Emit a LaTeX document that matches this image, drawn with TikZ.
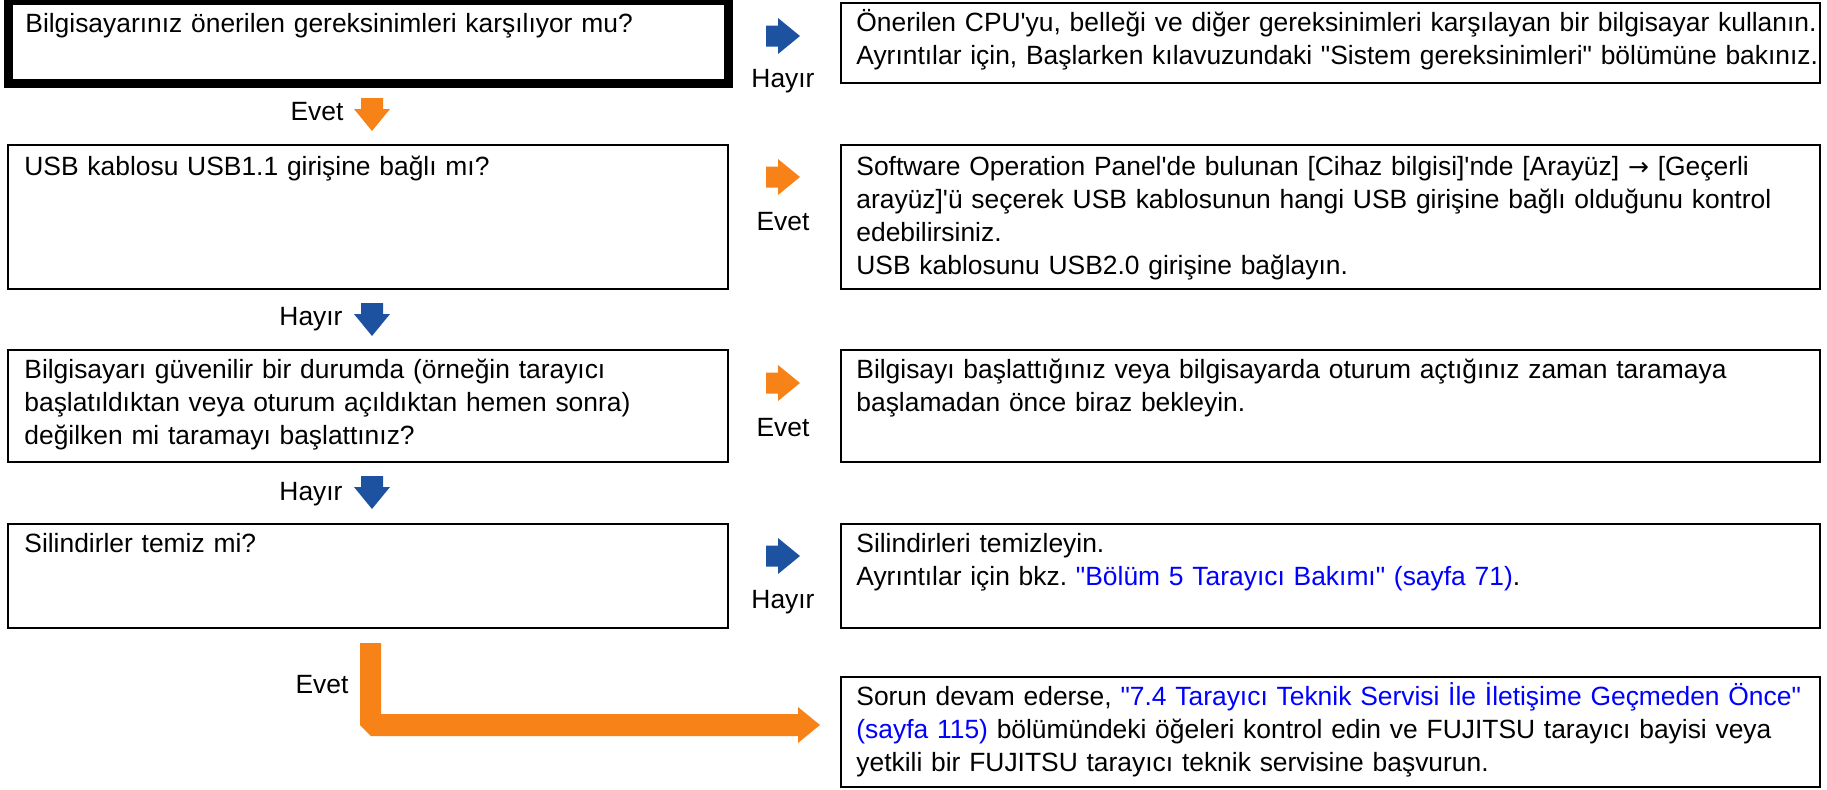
\documentclass[tikz,border=0pt]{standalone}
\usepackage{fontspec}
\newfontfamily\lsans{Liberation Sans}
\newfontfamily\dvs{DejaVu Sans}
\definecolor{fjorange}{RGB}{247,130,24}
\definecolor{fjblue}{RGB}{28,82,160}
\definecolor{linkblue}{RGB}{0,0,255}
\frenchspacing
\begin{document}
\begin{tikzpicture}[x=0.5pt,y=-0.5pt,
  box/.style={draw=black, line width=1.25pt, anchor=north west, inner sep=0pt, outer sep=0pt},
  thickbox/.style={box, line width=4.5pt},
  lbox/.style={box, minimum width=360pt},
  rbox/.style={box, minimum width=489.5pt},
  txt/.style={anchor=base west, inner sep=0pt, align=left, font=\lsans\fontsize{13.2}{16.5}\selectfont\frenchspacing},
  ltxt/.style={txt, text width=352pt},
  rtxt/.style={txt, text width=500pt},
  lbl/.style={anchor=base, inner sep=0pt, font=\lsans\fontsize{13.2}{16.5}\selectfont},
  rarr/.pic={\fill[#1] (0,-10.5) -- (12,-10.5) -- (12,-18) -- (34,0) -- (12,18) -- (12,10.5) -- (0,10.5) -- cycle;},
  darr/.pic={\fill[#1] (-11,0) -- (11,0) -- (11,11) -- (18,11) -- (0,33) -- (-18,11) -- (-11,11) -- cycle;},
]
\useasboundingbox (0,0) rectangle (1827,789);

% row 1
\node[thickbox, minimum width=360pt, minimum height=41.25pt] (q1) at (8,0.5) {};
\node[rbox, minimum height=40pt] (a1) at (841,3) {};
\node[ltxt] (q1t) at (25,32) {Bilgisayarınız önerilen gereksinimleri karşılıyor mu?};
\node[rtxt] (a1t) at (856,31) {Önerilen CPU'yu, belleği ve diğer gereksinimleri karşılayan bir bilgisayar kullanın.\\Ayrıntılar için, Başlarken kılavuzundaki "Sistem gereksinimleri" bölümüne bakınız.};
\pic at (766,36) {rarr=fjblue};
\node[lbl] (h1) at (783,87) {Hayır};
\pic at (372,98) {darr=fjorange};
\node[lbl] (e1) at (317,120) {Evet};

% row 2
\node[lbox, minimum height=72pt] (q2) at (8,145) {};
\node[rbox, minimum height=72pt] (a2) at (841,145) {};
\node[ltxt] (q2t) at (24,175) {USB kablosu USB1.1 girişine bağlı mı?};
\node[rtxt] (a2t) at (856,175) {Software Operation Panel'de bulunan [Cihaz bilgisi]'nde [Arayüz] {\dvs\fontsize{12.5}{16.5}\selectfont →} [Geçerli\\arayüz]'ü seçerek USB kablosunun hangi USB girişine bağlı olduğunu kontrol\\edebilirsiniz.\\USB kablosunu USB2.0 girişine bağlayın.};
\pic at (766,177) {rarr=fjorange};
\node[lbl] (e2) at (783,230) {Evet};
\pic at (372,303) {darr=fjblue};
\node[lbl] (h2) at (311,325) {Hayır};

% row 3
\node[lbox, minimum height=56pt] (q3) at (8,350) {};
\node[rbox, minimum height=56pt] (a3) at (841,350) {};
\node[ltxt] (q3t) at (24,378) {Bilgisayarı güvenilir bir durumda (örneğin tarayıcı\\başlatıldıktan veya oturum açıldıktan hemen sonra)\\değilken mi taramayı başlattınız?};
\node[rtxt] (a3t) at (856,378) {Bilgisayı başlattığınız veya bilgisayarda oturum açtığınız zaman taramaya\\başlamadan önce biraz bekleyin.};
\pic at (766,383) {rarr=fjorange};
\node[lbl] (e3) at (783,436) {Evet};
\pic at (372,476) {darr=fjblue};
\node[lbl] (h3) at (311,500) {Hayır};

% row 4
\node[lbox, minimum height=52pt] (q4) at (8,524) {};
\node[rbox, minimum height=52pt] (a4) at (841,524) {};
\node[ltxt] (q4t) at (24,552) {Silindirler temiz mi?};
\node[rtxt] (a4t) at (856,552) {Silindirleri temizleyin.\\Ayrıntılar için bkz. \textcolor{linkblue}{"Bölüm 5 Tarayıcı Bakımı" (sayfa 71)}.};
\pic at (766,556) {rarr=fjblue};
\node[lbl] (h4) at (783,608) {Hayır};

% row 5
\node[rbox, minimum height=55pt] (a5) at (841,677) {};
\node[rtxt] (a5t) at (856,705) {Sorun devam ederse, \textcolor{linkblue}{"7.4 Tarayıcı Teknik Servisi İle İletişime Geçmeden Önce"}\\\textcolor{linkblue}{(sayfa 115)} bölümündeki öğeleri kontrol edin ve FUJITSU tarayıcı bayisi veya\\yetkili bir FUJITSU tarayıcı teknik servisine başvurun.};
\fill[fjorange] (360,643) -- (381,643) -- (381,714) -- (798,714) -- (798,707) -- (820,725) -- (798,743) -- (798,736) -- (371,736) -- (360,725) -- cycle;
\node[lbl] (e4) at (322,693) {Evet};
\end{tikzpicture}
\end{document}
